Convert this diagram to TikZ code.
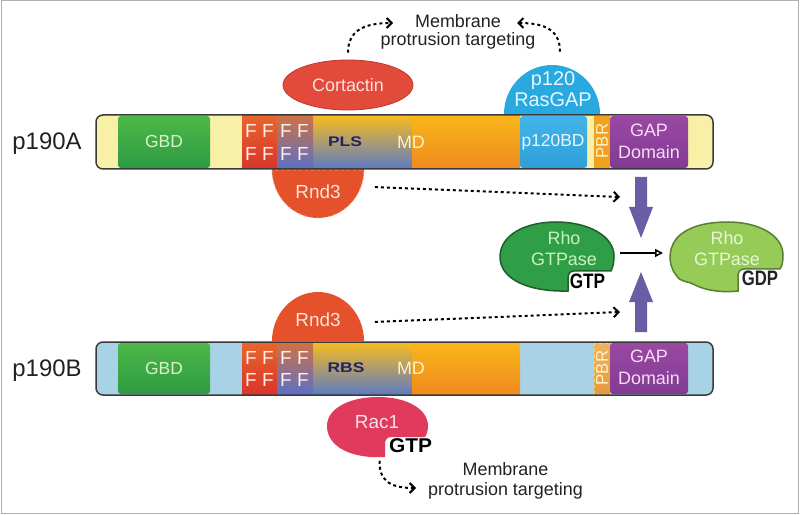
\documentclass[tikz,border=0pt]{standalone}
\usepackage{fontspec}
\usepackage{graphicx}
\setmainfont{Liberation Sans}
\usetikzlibrary{arrows.meta,shapes.geometric}

\definecolor{framegray}{HTML}{B0B0B0}
\definecolor{barline}{HTML}{3A3A3A}
\definecolor{barAfill}{HTML}{F8F0A6}
\definecolor{barBfill}{HTML}{A8D3E6}
\definecolor{gbdT}{HTML}{4DB748}
\definecolor{gbdB}{HTML}{2E9B44}
\definecolor{gbdtxt}{HTML}{D9F3C6}
\definecolor{redT}{HTML}{E9652C}
\definecolor{redB}{HTML}{D9352A}
\definecolor{ffT}{HTML}{CD7244}
\definecolor{ffB}{HTML}{5E70C4}
\definecolor{plsT}{HTML}{F6BB22}
\definecolor{plsB}{HTML}{5F7BC0}
\definecolor{orT}{HTML}{F8B61A}
\definecolor{orB}{HTML}{F08A1F}
\definecolor{bdT}{HTML}{43B5EA}
\definecolor{bdB}{HTML}{2E9FD8}
\definecolor{pbrAcol}{HTML}{F2A11F}
\definecolor{pbrBT}{HTML}{EDB45E}
\definecolor{pbrBB}{HTML}{E39A3E}
\definecolor{pbrBline}{HTML}{F5D468}
\definecolor{gapT}{HTML}{9A48A3}
\definecolor{gapB}{HTML}{823B93}
\definecolor{gaptxt}{HTML}{F6DDF4}
\definecolor{navy}{HTML}{1F2466}
\definecolor{mdtxt}{HTML}{FFF2C8}
\definecolor{cortfill}{HTML}{E24A3B}
\definecolor{cortline}{HTML}{C0392E}
\definecolor{cortxt}{HTML}{FCE4DA}
\definecolor{rndfill}{HTML}{E4512A}
\definecolor{rndline}{HTML}{F4B090}
\definecolor{rndtxt}{HTML}{FCE3D6}
\definecolor{rasfill}{HTML}{28A9E0}
\definecolor{rastxt}{HTML}{E8F7FF}
\definecolor{racfill}{HTML}{E03A5C}
\definecolor{ractxt}{HTML}{FCE2E8}
\definecolor{rhoGTP}{HTML}{2F9E46}
\definecolor{rhoGTPline}{HTML}{1E5F2C}
\definecolor{rhoGTPtxt}{HTML}{C9F2C2}
\definecolor{rhoGDP}{HTML}{96CB57}
\definecolor{rhoGDPline}{HTML}{587F32}
\definecolor{rhoGDPtxt}{HTML}{E6F7D6}
\definecolor{purp}{HTML}{6B5CA6}
\definecolor{darktxt}{HTML}{222222}
\definecolor{ftxtcol}{HTML}{FFF0EA}
\definecolor{pbrtxt}{HTML}{FFF1CC}

\begin{document}
\begin{tikzpicture}[x=1bp,y=-1bp,
  txt/.style={inner sep=0pt, font=\fontsize{#1}{#1}\selectfont},
  btxt/.style={inner sep=0pt, font=\fontsize{#1}{#1}\selectfont\bfseries},
  ftxt/.style={txt=19, text=ftxtcol},
  dotarrow/.style={dash pattern=on 3bp off 3bp, line width=2bp, -{Straight Barb[length=5bp,width=10bp]}},
  barframe/.style={draw=barline, line width=1.5bp, rounded corners=7bp},
]
\useasboundingbox (0,0) rectangle (800,515);
\fill[white] (0,0) rectangle (800,515);
\draw[framegray, line width=1bp] (1,1) rectangle (798,513);

% ---------- top annotations
\node[align=center, inner sep=0pt, font=\fontsize{18}{19}\selectfont, text=darktxt] (memtop) at (458,31.9) {Membrane\\protrusion targeting};
\coordinate (memTL) at (393,23);
\coordinate (memTR) at (517,23);

% Cortactin
\node[ellipse, fill=cortfill, draw=cortline, line width=0.8bp, minimum width=130bp, minimum height=50bp, inner sep=0pt, font=\fontsize{18}{18}\selectfont, text=cortxt] (cort) at (348,85) {Cortactin};

% p120 RasGAP dome
\fill[rasfill] (504,114) .. controls (504,87) and (525.5,65) .. (552,65) .. controls (578.5,65) and (600,87) .. (600,114) -- cycle;
\node[align=center, inner sep=0pt, font=\fontsize{20}{21}\selectfont, text=rastxt] (rasgapT) at (553,89.4) {p120\\RasGAP};

% Rnd3 below p190A
\fill[rndfill] (272,169) .. controls (272,196) and (292.6,218) .. (318,218) .. controls (343.4,218) and (364,196) .. (364,169) -- cycle;
\draw[rndline, dashed, line width=0.8bp] (272,170) .. controls (272,196) and (292.6,218) .. (318,218) .. controls (343.4,218) and (364,196) .. (364,170) -- cycle;
\node[txt=19, text=rndtxt] (rndA) at (318,191.5) {Rnd3};

% Rnd3 above p190B
\fill[rndfill] (272,341) .. controls (272,314) and (292.6,292) .. (318,292) .. controls (343.4,292) and (364,314) .. (364,341) -- cycle;
\node[txt=19, text=rndtxt] (rndB) at (318,319.5) {Rnd3};

% Rac1
\fill[racfill] (385,457) .. controls (350,459) and (327,446) .. (327,426) .. controls (327,408) and (350,397) .. (378,397) .. controls (407,397) and (428,409) .. (428,426) .. controls (428,430) and (427,434) .. (425,437) -- (391,437) .. controls (387,437) and (385,440) .. (385,444) -- cycle;
\node[txt=19, text=ractxt] (rac) at (377,422.5) {Rac1};
\node[btxt=20, text=black] (gtpR) at (410.5,445.5) {\scalebox{1.05}[1]{GTP}};

% ---------- p190A bar
\fill[barAfill, rounded corners=7bp] (96,115) rectangle (713,169);
\shade[top color=gbdT, bottom color=gbdB, rounded corners=3bp] (118,116) rectangle (210,168);
\shade[top color=redT, bottom color=redB] (242,116) rectangle (277,168);
\shade[top color=plsT, bottom color=plsB] (277,116) rectangle (412,168);
\shade[top color=ffT, bottom color=ffB] (277,116) rectangle (313,168);
\shade[top color=orT, bottom color=orB] (412,116) rectangle (520,168);
\shade[top color=bdT, bottom color=bdB, rounded corners=3bp] (520,116) rectangle (587,168);
\fill[pbrAcol] (594,116) rectangle (610,168);
\shade[top color=gapT, bottom color=gapB, rounded corners=3bp] (610,116) rectangle (688,168);
\draw[barframe] (96,115) rectangle (713,169);

% ---------- p190B bar
\fill[barBfill, rounded corners=7bp] (96,342) rectangle (713,395);
\shade[top color=gbdT, bottom color=gbdB, rounded corners=3bp] (118,343) rectangle (210,394);
\shade[top color=redT, bottom color=redB] (242,343) rectangle (277,394);
\shade[top color=plsT, bottom color=plsB] (277,343) rectangle (412,394);
\shade[top color=ffT, bottom color=ffB] (277,343) rectangle (313,394);
\shade[top color=orT, bottom color=orB] (412,343) rectangle (520,394);
\shade[top color=pbrBT, bottom color=pbrBB] (594,343) rectangle (610,394);
\draw[pbrBline, dashed, line width=0.8bp] (594,343) rectangle (610,394);
\shade[top color=gapT, bottom color=gapB, rounded corners=3bp] (610,343) rectangle (688,394);
\draw[barframe] (96,342) rectangle (713,395);

% ---------- bar labels
\node[txt=24, text=darktxt] (labA) at (47,144) {p190A};
\node[txt=24, text=darktxt] (labB) at (47,370.5) {p190B};
\node[txt=17.5, text=gbdtxt] (gbdA) at (164,142) {GBD};
\node[txt=17.5, text=gbdtxt] (gbdB) at (164,368.5) {GBD};
\foreach \fx [count=\fk] in {251,268,286,303} {
  \node[ftxt] (fAt\fk) at (\fx,131) {F};
  \node[ftxt] (fAb\fk) at (\fx,154) {F};
  \node[ftxt] (fBt\fk) at (\fx,357.5) {F};
  \node[ftxt] (fBb\fk) at (\fx,380) {F};
}
\node[btxt=14, text=navy] (pls) at (345,142) {\scalebox{1.25}[1]{PLS}};
\node[btxt=14, text=navy] (rbs) at (346,368) {\scalebox{1.25}[1]{RBS}};
\node[txt=18, text=mdtxt] (mdA) at (411,142) {MD};
\node[txt=18, text=mdtxt] (mdB) at (411,368) {MD};
\node[txt=17.5, text=rastxt] (bdA) at (553,142) {p120BD};
\node[txt=17, text=pbrtxt, rotate=90] (pbrA) at (602,141) {PBR};
\node[txt=17, text=pbrtxt, rotate=90] (pbrB) at (602,368) {PBR};
\node[align=center, inner sep=0pt, font=\fontsize{18}{22.5}\selectfont, text=gaptxt] (gapA) at (649,141.1) {GAP\\Domain};
\node[align=center, inner sep=0pt, font=\fontsize{18}{22.5}\selectfont, text=gaptxt] (gapB) at (649,367.5) {GAP\\Domain};

% ---------- Rho GTPases
\filldraw[fill=rhoGTP, draw=rhoGTPline, line width=1.5bp]
 (568,291) .. controls (528,292) and (500,279) .. (500,257)
 .. controls (500,235) and (525,222) .. (556,222)
 .. controls (590,222) and (614,237) .. (614,256)
 .. controls (614,262) and (613,267) .. (611,271)
 -- (574,271) .. controls (570,271) and (568,274) .. (568,278) -- cycle;
\node[align=center, inner sep=0pt, font=\fontsize{18}{21}\selectfont, text=rhoGTPtxt] (rhoA) at (564,248.4) {Rho\\GTPase};
\node[btxt=21, text=black] (gtpA) at (587.5,281) {\scalebox{0.82}[1]{GTP}};

\filldraw[fill=rhoGDP, draw=rhoGDPline, line width=1.5bp]
 (738,291) .. controls (720,293) and (705,290) .. (695,285)
 .. controls (686,280) and (681,283) .. (676,275)
 .. controls (667,264) and (668,245) .. (680,235)
 .. controls (692,225) and (710,222) .. (728,222)
 .. controls (758,222) and (783,235) .. (783,255)
 .. controls (783,262) and (782,266) .. (780,269)
 -- (744,269) .. controls (740,269) and (738,272) .. (738,276) -- cycle;
\node[align=center, inner sep=0pt, font=\fontsize{18}{21}\selectfont, text=rhoGDPtxt] (rhoB) at (727,248.4) {Rho\\GTPase};
\node[btxt=21, text=darktxt] (gdp) at (760,278) {\scalebox{0.8}[1]{GDP}};

\coordinate (rhoR) at (620,253);
\coordinate (rhoL) at (663,253);
\draw[line width=1.5bp, -{Triangle[open, length=8bp, width=8bp, fill=white]}] (rhoR) -- (rhoL);

% ---------- purple block arrows
\fill[purp] (635,177) -- (647,177) -- (647,207) -- (653,207) -- (641,238) -- (629,207) -- (635,207) -- cycle;
\fill[purp] (635,332) -- (647,332) -- (647,302) -- (653,302) -- (641,272) -- (629,302) -- (635,302) -- cycle;

% ---------- dashed connectors
\coordinate (tipA) at (620,197);
\coordinate (tipB) at (620,312);
\coordinate (memBL) at (416,488);
\draw[dotarrow] ([yshift=7bp]cort.north) .. controls (348,30) and (365,23) .. (memTL);
\draw[dotarrow] ([xshift=7bp,yshift=20bp]rasgapT.north) .. controls (560,30) and (545,23) .. (memTR);
\draw[dotarrow] ([xshift=34bp,yshift=4.5bp]rndA.east) -- (tipA);
\draw[dotarrow] ([xshift=34bp,yshift=-2.5bp]rndB.east) -- (tipB);
\draw[dotarrow] ([xshift=-31bp,yshift=-8bp]gtpR.south) .. controls (379,482) and (392,488) .. (memBL);

\node[align=center, inner sep=0pt, font=\fontsize{18}{20}\selectfont, text=darktxt] (membot) at (505.5,480.4) {Membrane\\protrusion targeting};
\end{tikzpicture}
\end{document}
